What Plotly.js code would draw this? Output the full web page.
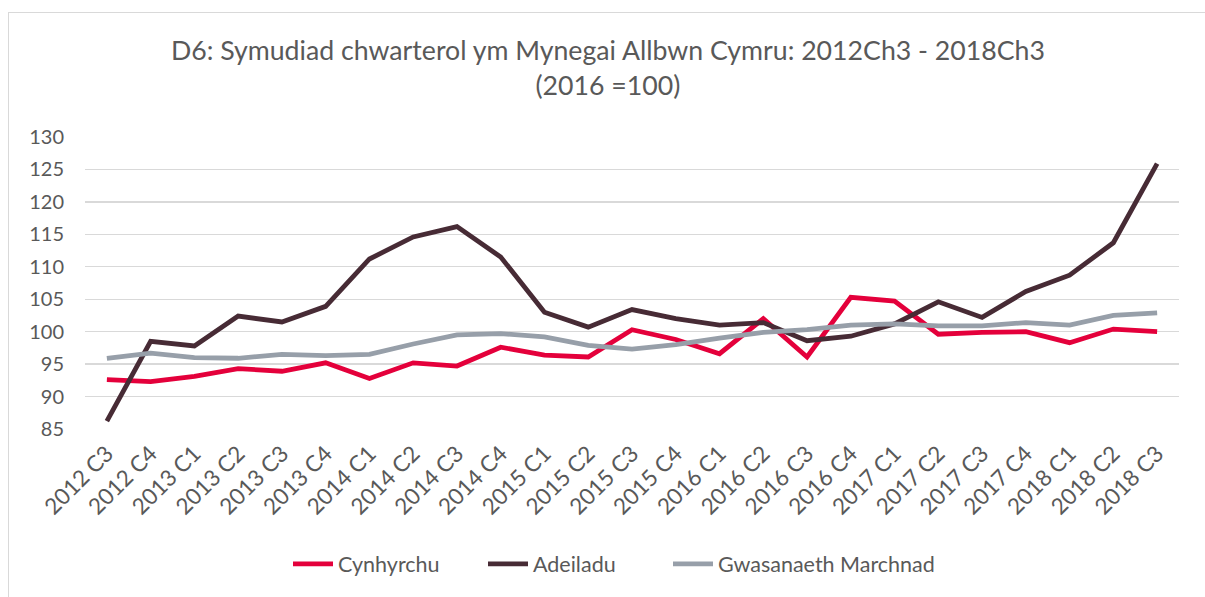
<!DOCTYPE html>
<html>
<head>
<meta charset="utf-8">
<script src="https://cdn.plot.ly/plotly-3.0.1.min.js"></script>
<style>
  html, body { margin: 0; padding: 0; width: 1205px; height: 597px; overflow: hidden; background: #ffffff; }
  #frame { position: absolute; left: 8px; top: 12px; width: 1400px; height: 800px; border: 1px solid #d9d9d9; box-sizing: border-box; }
  #chart { position: absolute; left: 0; top: 0; width: 1205px; height: 597px; }
</style>
</head>
<body>
<div id="frame"></div>
<div id="chart"></div>
<script>
const categories = ["2012 C3","2012 C4","2013 C1","2013 C2","2013 C3","2013 C4","2014 C1","2014 C2","2014 C3","2014 C4","2015 C1","2015 C2","2015 C3","2015 C4","2016 C1","2016 C2","2016 C3","2016 C4","2017 C1","2017 C2","2017 C3","2017 C4","2018 C1","2018 C2","2018 C3"];

const cynhyrchu = [92.6, 92.3, 93.1, 94.3, 93.9, 95.2, 92.8, 95.2, 94.7, 97.6, 96.4, 96.1, 100.3, 98.8, 96.6, 102.0, 96.1, 105.3, 104.7, 99.6, 99.9, 100.0, 98.3, 100.4, 100.0];

const adeiladu = [86.2, 98.5, 97.8, 102.4, 101.5, 103.9, 111.2, 114.6, 116.2, 111.5, 103.0, 100.7, 103.4, 102.0, 101.0, 101.4, 98.6, 99.3, 101.2, 104.6, 102.2, 106.2, 108.7, 113.7, 125.9];

const gwasanaeth = [95.9, 96.7, 96.0, 95.9, 96.5, 96.3, 96.5, 98.1, 99.5, 99.7, 99.2, 97.9, 97.3, 98.0, 99.0, 99.9, 100.3, 101.0, 101.2, 100.9, 100.9, 101.4, 101.0, 102.5, 102.9];

const yTicks = [85, 90, 95, 100, 105, 110, 115, 120, 125, 130];

const FONT = "Lato, 'Open Sans', sans-serif";
const TXT = "#595959";

const series = [
  { name: "Cynhyrchu", y: cynhyrchu, color: "#e4003b", legend: "legend" },
  { name: "Adeiladu", y: adeiladu, color: "#472b35", legend: "legend2" },
  { name: "Gwasanaeth Marchnad", y: gwasanaeth, color: "#979fa9", legend: "legend3" }
];

const traces = series.map(s => ({
  type: "scatter", mode: "lines", name: s.name, x: categories, y: s.y,
  legend: s.legend,
  line: { color: s.color, width: 4.8, shape: "linear" },
  hoverinfo: "x+y+name"
}));

// plot area geometry (px) used only to place legend boxes
const PL = 85, PW = 1094, PB = 431, PH = 294.3;
function legendAt(px) {
  return {
    orientation: "h",
    x: (px - PL) / PW, xanchor: "left",
    y: (PB - 567) / PH, yanchor: "middle",
    font: { family: FONT, size: 21.5, color: TXT },
    bgcolor: "rgba(0,0,0,0)",
    itemwidth: 40
  };
}

const layout = {
  width: 1205, height: 597,
  paper_bgcolor: "rgba(0,0,0,0)", plot_bgcolor: "rgba(0,0,0,0)",
  margin: { l: 85, r: 26, t: 137, b: 166, pad: 0 },
  font: { family: FONT, color: TXT, size: 20 },
  title: {
    text: "D6: Symudiad chwarterol ym Mynegai Allbwn Cymru: 2012Ch3 - 2018Ch3<br>(2016 =100)",
    font: { family: FONT, size: 26.7, color: TXT },
    x: 0.478, xref: "paper", xanchor: "center",
    y: 1 - 60 / 597, yref: "container", yanchor: "top"
  },
  xaxis: {
    type: "category",
    range: [-0.5, categories.length - 0.5],
    tickangle: -45,
    tickfont: { family: FONT, size: 22.5, color: TXT },
    ticklabelstandoff: 6,
    showgrid: false, zeroline: false,
    showline: false, ticks: "", ticklen: 0,
    automargin: false
  },
  yaxis: {
    range: [85, 130],
    tickvals: yTicks,
    ticktext: yTicks.map(String),
    tickfont: { family: FONT, size: 20, color: TXT },
    ticklabelstandoff: 20,
    showgrid: true, gridcolor: "#d9d9d9", gridwidth: 1.3,
    zeroline: false, showline: false, ticks: "",
    automargin: false
  },
  showlegend: true,
  legend: legendAt(288),
  legend2: legendAt(483),
  legend3: legendAt(668)
};

Plotly.newPlot("chart", traces, layout, { displayModeBar: false, staticPlot: true });
</script>
</body>
</html>
